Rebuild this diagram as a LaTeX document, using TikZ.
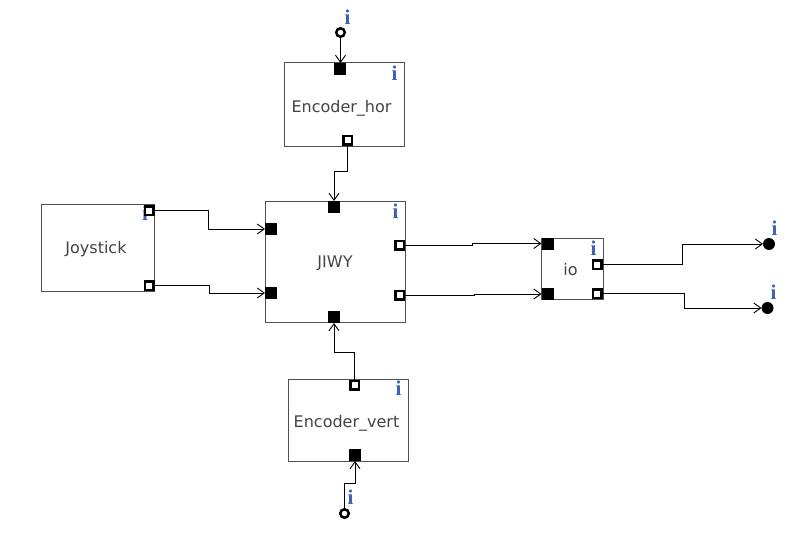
\documentclass[tikz,border=0pt]{standalone}
\usepackage{fontspec}
\setmainfont{DejaVu Sans}
\newfontfamily\infofont{Liberation Serif}
\usetikzlibrary{arrows.meta}
\definecolor{boxgrey}{HTML}{505050}
\definecolor{textgrey}{HTML}{444444}
\definecolor{infoblue}{HTML}{3C62B4}
\tikzset{
  blockbox/.style={draw=boxgrey,line width=1pt,fill=white,minimum width=#1,inner sep=0pt,outer sep=0pt},
  blocklabel/.style={text=textgrey,font=\fontsize{16}{18}\selectfont,inner sep=0pt,anchor=base},
  inport/.style={fill=black,draw=none,minimum size=12pt,inner sep=0pt,outer sep=0pt},
  outport/.style={fill=white,draw=black,line width=2.5pt,minimum size=8.5pt,inner sep=0pt,outer sep=0pt},
  opencirc/.style={circle,fill=white,draw=black,line width=2.5pt,minimum size=8.5pt,inner sep=0pt,outer sep=0pt},
  filledcirc/.style={circle,fill=black,draw=none,minimum size=12pt,inner sep=0pt,outer sep=0pt},
  info/.style={text=infoblue,font=\infofont\bfseries\fontsize{21}{21}\selectfont,inner sep=0pt},
  wire/.style={draw=black,line width=1pt},
  wirearrow/.style={wire,-{Straight Barb[length=7pt,width=10pt,line width=0.9pt]}},
}
\begin{document}
\begin{tikzpicture}[x=1pt,y=-1pt]
\useasboundingbox (0,0) rectangle (808,543);
% blocks
\node[blockbox=120pt,minimum height=83pt] (ench) at (344.5,104.5) {};
\node[blocklabel] (enchl) at (341.5,112) {Encoder\_hor};
\node[blockbox=140pt,minimum height=121pt] (jiwy) at (335.5,261.5) {};
\node[blocklabel] (jiwyl) at (335,267) {JIWY};
\node[blockbox=113pt,minimum height=87pt] (joy) at (98,247.5) {};
\node[blocklabel] (joyl) at (96,253.5) {Joystick};
\node[blockbox=62pt,minimum height=61pt] (io) at (572.5,268.5) {};
\node[blocklabel] (iol) at (570.5,275) {io};
\node[blockbox=120pt,minimum height=82pt] (encv) at (348.5,420.5) {};
\node[blocklabel] (encvl) at (346.5,427) {Encoder\_vert};
% info marks
\node[info] (i1) at (347.5,17) {i};
\node[info] (i2) at (394.5,73) {i};
\node[info] (i3) at (395.5,211) {i};
\node[info] (i4) at (145,213) {i};
\node[info] (i5) at (593.5,248) {i};
\node[info] (i6) at (774.5,228) {i};
\node[info] (i7) at (773.5,292) {i};
\node[info] (i8) at (398.5,388.5) {i};
\node[info] (i9) at (350.5,497) {i};
% ports
\node[inport] (ench_in) at (340,69) {};
\node[outport] (ench_out) at (347.5,140) {};
\node[inport] (jiwy_l1) at (271,229) {};
\node[inport] (jiwy_l2) at (271,293) {};
\node[inport] (jiwy_t) at (334,207) {};
\node[inport] (jiwy_b) at (334,317) {};
\node[outport] (jiwy_r1) at (399.5,245) {};
\node[outport] (jiwy_r2) at (399.5,295) {};
\node[outport] (joy_1) at (149,210.5) {};
\node[outport] (joy_2) at (149,285.5) {};
\node[inport] (io_l1) at (547.5,243.5) {};
\node[inport] (io_l2) at (547.5,294) {};
\node[outport] (io_r1) at (597,264.5) {};
\node[outport] (io_r2) at (597,293.5) {};
\node[outport] (encv_out) at (354.5,385) {};
\node[inport] (encv_in) at (355,455) {};
\node[opencirc] (top_c) at (340.5,32.5) {};
\node[opencirc] (bot_c) at (344.5,513.5) {};
\node[filledcirc] (out1) at (769,244) {};
\node[filledcirc] (out2) at (767.5,308) {};
% connectors
\draw[wirearrow] (top_c.south) -- (top_c.south |- ench_in.north);
\draw[wirearrow] (ench_out.south) -- ++(0,27) -| (jiwy_t.north);
\draw[wirearrow] (joy_1.east) -- ++(55,0) |- (jiwy_l1.west);
\draw[wirearrow] (joy_2.east) -- ++(56.5,0) |- (jiwy_l2.west);
\draw[wirearrow] (jiwy_r1.east) -- ++(69,0) |- (io_l1.west);
\draw[wirearrow] (jiwy_r2.east) -- ++(71,0) |- (io_l2.west);
\draw[wirearrow] (io_r1.east) -- ++(81.5,0) |- (out1.west);
\draw[wirearrow] (io_r2.east) -- ++(83.5,0) |- (out2.west);
\draw[wirearrow] (encv_out.north) -- ++(0,-28.5) -| (jiwy_b.south);
\draw[wirearrow] (bot_c.north) -- ++(0,-25.5) -| (encv_in.south);
\end{tikzpicture}
\end{document}
